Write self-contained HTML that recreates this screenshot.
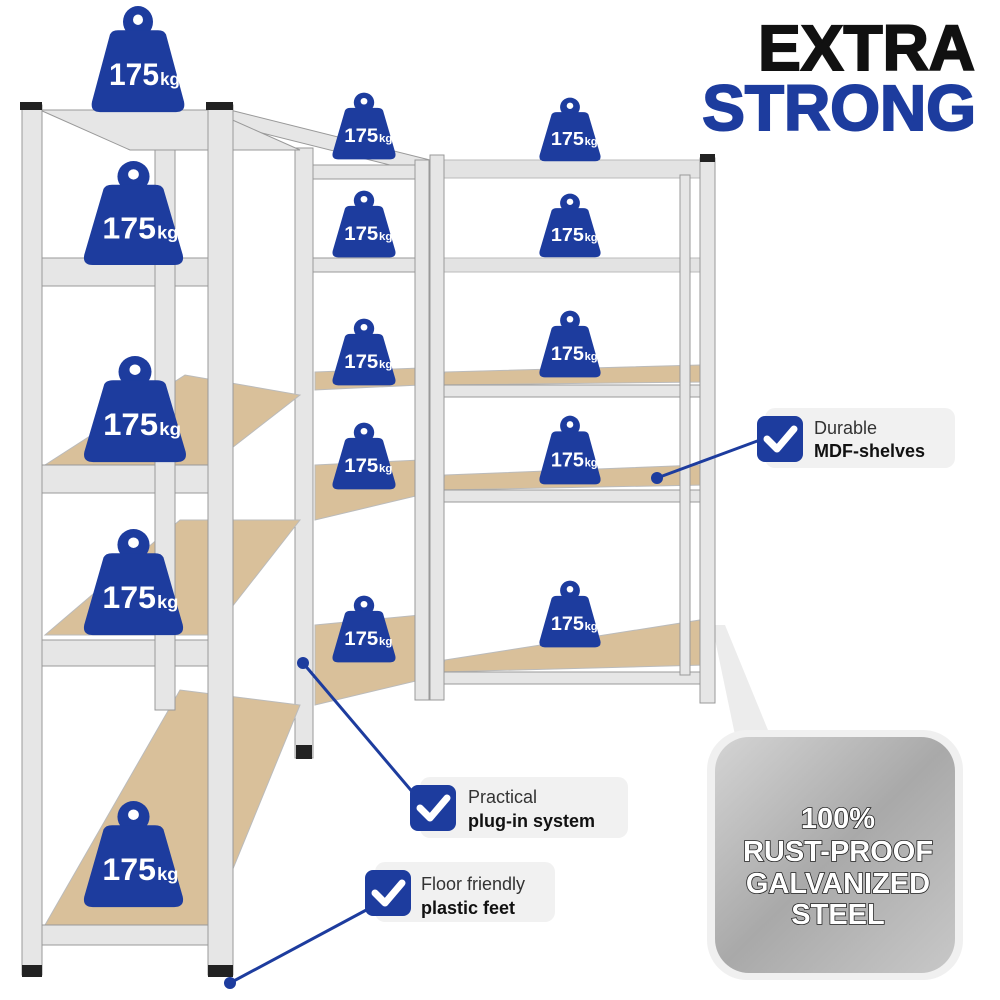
<!DOCTYPE html>
<html><head><meta charset="utf-8"><style>
html,body{margin:0;padding:0;background:#fff;}
svg{display:block}
text{font-family:"Liberation Sans","DejaVu Sans",sans-serif;}
</style></head><body>
<svg width="1000" height="1000" viewBox="0 0 1000 1000" xmlns="http://www.w3.org/2000/svg">
<defs>
<g id="w">
  <circle cx="50" cy="16" r="15" fill="#1d3c9e"/>
  <circle cx="50" cy="14" r="5" fill="#fff"/>
  <path d="M22 28 Q24 24 30 24 L70 24 Q76 24 78 28 L96 92 Q98 102 88 102 L12 102 Q2 102 4 92 Z" fill="#1d3c9e"/>
  <text x="46" y="76" text-anchor="middle" font-size="30" font-weight="bold" fill="#fff">175</text>
  <text x="82" y="76" text-anchor="middle" font-size="17" font-weight="bold" fill="#fff">kg</text>
</g>
<linearGradient id="steel" x1="0" y1="0" x2="1" y2="1">
  <stop offset="0" stop-color="#d4d4d4"/><stop offset="0.5" stop-color="#a9a9a9"/><stop offset="1" stop-color="#c8c8c8"/>
</linearGradient>
<g id="chk">
  <rect x="0" y="0" width="46" height="46" rx="8" fill="#1d3c9e"/>
  <path d="M10 23 L20 33 L37 13" stroke="#fff" stroke-width="7" fill="none" stroke-linecap="round" stroke-linejoin="round"/>
</g>
</defs>

<polygon points="712,625 725,625 770,735 735,735" fill="#ececec"/>

<g fill="#d9c09a" stroke="#bbb">
  <polygon points="440,160 710,160 710,178 440,178" fill="#e3e3e3"/>
  <polygon points="440,258 710,258 710,272 440,272" fill="#e3e3e3"/>
  <polygon points="445,372 700,365 705,382 440,385"/>
  <polygon points="445,475 700,465 705,485 440,490"/>
  <polygon points="445,660 700,620 705,665 440,672"/>
</g>
<g fill="#e6e6e6" stroke="#999">
  <rect x="440" y="385" width="270" height="12"/>
  <rect x="440" y="490" width="270" height="12"/>
  <rect x="440" y="672" width="270" height="12"/>
  <rect x="430" y="155" width="14" height="545"/>
  <rect x="700" y="158" width="15" height="545"/>
  <rect x="680" y="175" width="10" height="500"/>
</g>

<g fill="#d9c09a" stroke="#bbb">
  <polygon points="315,372 420,368 420,385 315,390"/>
  <polygon points="315,465 420,460 420,495 315,520"/>
  <polygon points="315,625 420,615 420,680 315,705"/>
</g>
<g fill="#e6e6e6" stroke="#999">
  <polygon points="230,110 430,160 430,175 230,125"/>
  <rect x="312" y="165" width="105" height="14"/>
  <rect x="312" y="258" width="105" height="14"/>
  <rect x="295" y="148" width="18" height="610"/>
  <rect x="415" y="160" width="14" height="540"/>
</g>

<g fill="#d9c09a" stroke="#bbb">
  <polygon points="45,465 210,465 300,395 185,375"/>
  <polygon points="45,635 210,635 300,520 180,520"/>
  <polygon points="45,925 210,925 300,705 180,690"/>
</g>
<g fill="#e6e6e6" stroke="#999">
  <polygon points="40,110 210,110 300,150 130,150"/>
  <rect x="40" y="258" width="175" height="28"/>
  <rect x="40" y="465" width="175" height="28"/>
  <rect x="40" y="640" width="175" height="26"/>
  <rect x="40" y="925" width="175" height="20"/>
  <rect x="155" y="150" width="20" height="560"/>
  <rect x="22" y="105" width="20" height="870"/>
  <rect x="208" y="105" width="25" height="870"/>
</g>
<g fill="#222">
  <rect x="20" y="102" width="22" height="8"/><rect x="206" y="102" width="27" height="8"/>
  <rect x="22" y="965" width="20" height="12"/><rect x="208" y="965" width="25" height="12"/>
  <rect x="700" y="154" width="15" height="8"/><rect x="296" y="745" width="16" height="14"/>
</g>

<use href="#w" transform="translate(88,5) scale(1.0,1.05)"/>
<use href="#w" transform="translate(80,160) scale(1.07,1.03)"/>
<use href="#w" transform="translate(80,355) scale(1.1,1.05)"/>
<use href="#w" transform="translate(80,528) scale(1.07,1.05)"/>
<use href="#w" transform="translate(80,800) scale(1.07,1.05)"/>
<use href="#w" transform="translate(330,92) scale(0.68,0.66)"/>
<use href="#w" transform="translate(330,190) scale(0.68,0.66)"/>
<use href="#w" transform="translate(330,318) scale(0.68,0.66)"/>
<use href="#w" transform="translate(330,422) scale(0.68,0.66)"/>
<use href="#w" transform="translate(330,595) scale(0.68,0.66)"/>
<use href="#w" transform="translate(537,97) scale(0.66,0.63)"/>
<use href="#w" transform="translate(537,193) scale(0.66,0.63)"/>
<use href="#w" transform="translate(537,310) scale(0.66,0.66)"/>
<use href="#w" transform="translate(537,415) scale(0.66,0.68)"/>
<use href="#w" transform="translate(537,580) scale(0.66,0.66)"/>

<text x="975" y="70" text-anchor="end" font-size="64" font-weight="bold" fill="#111" stroke="#111" stroke-width="2">EXTRA</text>
<text x="976" y="130" text-anchor="end" font-size="64" font-weight="bold" fill="#1d3c9e" stroke="#1d3c9e" stroke-width="2">STRONG</text>

<g stroke="#1d3c9e" stroke-width="3">
  <line x1="657" y1="478" x2="760" y2="440"/>
  <line x1="303" y1="663" x2="415" y2="795"/>
  <line x1="230" y1="983" x2="370" y2="908"/>
</g>
<g fill="#1d3c9e"><circle cx="657" cy="478" r="6"/><circle cx="303" cy="663" r="6"/><circle cx="230" cy="983" r="6"/></g>
<rect x="765" y="408" width="190" height="60" rx="10" fill="#f1f1f1"/>
<rect x="420" y="777" width="208" height="61" rx="10" fill="#f1f1f1"/>
<rect x="375" y="862" width="180" height="60" rx="10" fill="#f1f1f1"/>
<use href="#chk" x="757" y="416"/>
<use href="#chk" x="410" y="785"/>
<use href="#chk" x="365" y="870"/>
<text x="814" y="434" font-size="18" fill="#333">Durable</text>
<text x="814" y="457" font-size="18" font-weight="bold" fill="#111">MDF-shelves</text>
<text x="468" y="803" font-size="18" fill="#333">Practical</text>
<text x="468" y="827" font-size="18" font-weight="bold" fill="#111">plug-in system</text>
<text x="421" y="890" font-size="18" fill="#333">Floor friendly</text>
<text x="421" y="914" font-size="18" font-weight="bold" fill="#111">plastic feet</text>

<rect x="707" y="730" width="256" height="250" rx="40" fill="#f0f0f0"/>
<rect x="715" y="737" width="240" height="236" rx="34" fill="url(#steel)"/>
<g font-size="29" font-weight="bold" fill="#fff" stroke="#222" stroke-width="1.6" paint-order="stroke" text-anchor="middle">
  <text x="838" y="828">100%</text>
  <text x="838" y="861">RUST-PROOF</text>
  <text x="838" y="893">GALVANIZED</text>
  <text x="838" y="924">STEEL</text>
</g>
</svg>
</body></html>
